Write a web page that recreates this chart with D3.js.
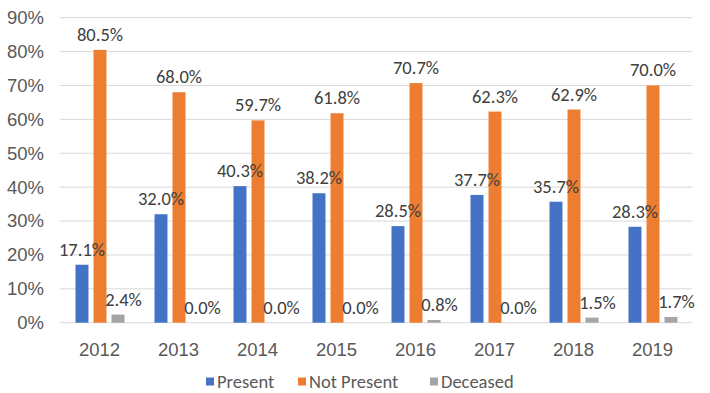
<!DOCTYPE html>
<html>
<head>
<meta charset="utf-8">
<script src="https://cdn.jsdelivr.net/npm/d3@7"></script>
<style>
  html, body { margin: 0; padding: 0; background: #fff; }
  svg { display: block; font-family: Calibri, Carlito, "Open Sans", "Liberation Sans", sans-serif; }
</style>
</head>
<body>
<svg id="chart" width="710" height="393"></svg>
<script>
// Yearly share of cases by status
const years = ["2012", "2013", "2014", "2015", "2016", "2017", "2018", "2019"];
const seriesNames = ["Present", "Not Present", "Deceased"];
const present    = [17.1, 32.0, 40.3, 38.2, 28.5, 37.7, 35.7, 28.3];
const notPresent = [80.5, 68.0, 59.7, 61.8, 70.7, 62.3, 62.9, 70.0];
const deceased   = [2.4, 0.0, 0.0, 0.0, 0.8, 0.0, 1.5, 1.7];
const yTicks = [0, 10, 20, 30, 40, 50, 60, 70, 80, 90];
const colors = ["#4472C4", "#ED7D31", "#A5A5A5"];

const seriesValues = [present, notPresent, deceased];
const rows = years.map((y, i) => ({
  year: y,
  values: seriesNames.map((s, k) => ({ key: s, k, value: seriesValues[k][i] }))
}));

const svg = d3.select("#chart");
const margin = { left: 60, right: 18, top: 17.7, bottom: 70.3 };
const W = 710, H = 393;
const FS = 18.5;

const x = d3.scaleBand().domain(years).range([margin.left, W - margin.right]).paddingInner(0).paddingOuter(0);
const xInner = d3.scaleBand().domain(seriesNames).range([x.bandwidth() / 2 - 24, x.bandwidth() / 2 + 25]).paddingInner(0.28);
const y = d3.scaleLinear().domain([0, 90]).range([H - margin.bottom, margin.top]);

// gridlines
svg.append("g")
  .selectAll("line")
  .data(yTicks)
  .join("line")
  .attr("x1", margin.left).attr("x2", W - margin.right)
  .attr("y1", d => y(d)).attr("y2", d => y(d))
  .attr("stroke", "#D9D9D9").attr("stroke-width", 1);

// y axis labels
const yAxis = d3.axisLeft(y).tickValues(yTicks).tickFormat(d => d + "%").tickSize(0).tickPadding(0);
const gy = svg.append("g").attr("transform", `translate(${margin.left - 16},0)`).call(yAxis);
gy.select(".domain").remove();
gy.selectAll("text").attr("font-size", FS).attr("fill", "#595959").attr("font-family", "inherit");

// x axis labels
const xAxis = d3.axisBottom(x).tickSize(0).tickPadding(0);
const gx = svg.append("g").attr("transform", `translate(0,${y(0) + 20})`).call(xAxis);
gx.select(".domain").remove();
gx.selectAll("text").attr("font-size", FS).attr("fill", "#595959").attr("font-family", "inherit");

// bars
const groups = svg.append("g").selectAll("g")
  .data(rows).join("g")
  .attr("transform", d => `translate(${x(d.year)},0)`);

groups.selectAll("rect")
  .data(d => d.values).join("rect")
  .attr("x", d => xInner(d.key))
  .attr("width", xInner.bandwidth())
  .attr("y", d => y(d.value))
  .attr("height", d => y(0) - y(d.value))
  .attr("fill", d => colors[d.k]);

// value labels (the small Deceased labels sit a little to the right)
groups.selectAll("text")
  .data(d => d.values).join("text")
  .attr("x", d => xInner(d.key) + xInner.bandwidth() / 2 + (d.k === 2 ? 5.5 : 0))
  .attr("y", d => y(d.value) - 9)
  .attr("text-anchor", "middle")
  .attr("font-size", FS)
  .attr("fill", "#404040")
  .text(d => d.value.toFixed(1) + "%");

// legend
const legendX = [206, 298, 430];
const legend = svg.append("g").selectAll("g")
  .data(seriesNames).join("g")
  .attr("transform", (d, i) => `translate(${legendX[i]},${382})`);
legend.append("rect")
  .attr("x", 0).attr("y", -4.5).attr("width", 8).attr("height", 8)
  .attr("fill", (d, i) => colors[i]);
legend.append("text")
  .attr("x", 11).attr("y", 0).attr("dy", "0.35em")
  .attr("font-size", FS).attr("fill", "#595959")
  .text(d => d);
</script>
</body>
</html>
